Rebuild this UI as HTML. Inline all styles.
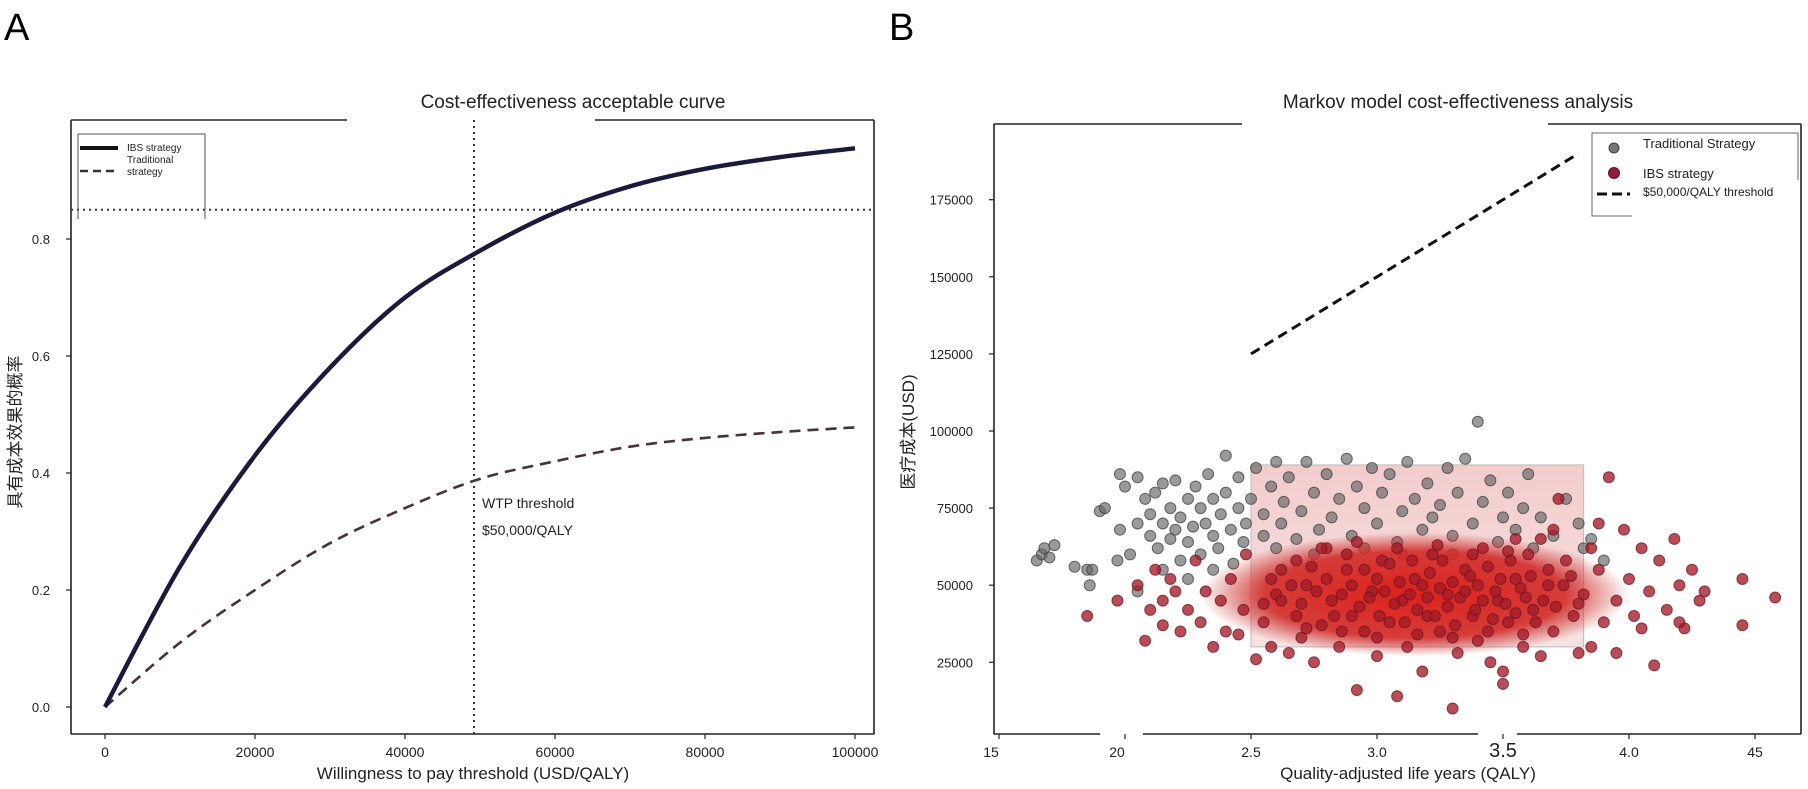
<!DOCTYPE html>
<html><head><meta charset="utf-8"><style>
html,body{margin:0;padding:0;background:#fff;}
svg{display:block;font-family:"Liberation Sans Narrow","Liberation Sans","Noto Sans CJK SC",sans-serif;}
</style></head><body>
<svg id="fig" width="1808" height="789" viewBox="0 0 1808 789">
<text x="4" y="40" font-size="38" font-family="Liberation Sans, sans-serif">A</text>
<text x="889" y="40" font-size="38" font-family="Liberation Sans, sans-serif">B</text>
<g id="left"></g>
<g id="right"></g>
</svg>
<script>
// ---- Left chart data ----
const wtpValues = [0,10000,20000,30000,40000,50000,60000,70000,80000,90000,100000];
const ibsProb = [0,0.24,0.43,0.58,0.70,0.78,0.845,0.89,0.92,0.94,0.955];
const tradProb = [0,0.11,0.20,0.28,0.34,0.39,0.42,0.445,0.46,0.47,0.478];
const leftXTicks = [0,20000,40000,60000,80000,100000];
const leftYTicks = [0,0.2,0.4,0.6,0.8];
const wtpThreshold = 50000;
const probThreshold = 0.85;
// ---- Right chart data ----
const rightXTicks = [1.5,2.0,2.5,3.0,3.5,4.0,4.5];
const rightXTickLabels = ["15","20","2.5","3.0","3.5","4.0","45"];
const rightYTicks = [25000,50000,75000,100000,125000,150000,175000];
const thresholdQ = [2.5,3.8];
const thresholdC = [125000,190000];
const tradQ = [1.65,1.67,1.68,1.70,1.72,1.80,1.85,1.86,1.87,1.90,1.92,1.98,1.98,2.00,2.02,2.05,2.05,2.08,2.10,2.10,2.12,2.13,2.15,2.15,2.18,2.18,2.20,2.20,2.22,2.22,2.25,2.25,2.27,2.28,2.30,2.30,2.32,2.33,2.35,2.35,2.37,2.38,2.40,2.40,2.42,2.43,2.45,2.45,2.47,2.48,2.50,2.52,2.55,2.55,2.58,2.60,2.62,2.63,2.65,2.68,2.70,2.72,2.75,2.77,2.80,2.82,2.85,2.88,2.90,2.92,2.95,2.98,3.00,3.02,3.05,3.08,3.10,3.12,3.15,3.18,3.20,3.22,3.25,3.28,3.30,3.32,3.35,3.38,3.40,3.42,3.45,3.48,3.50,3.52,3.55,3.58,3.60,3.62,3.65,3.70,3.75,3.80,3.82,2.60,2.75,2.95,3.10,3.30,2.35,2.15,2.05,2.25,1.97,3.85,3.90];
const tradC = [58,60,62,59,63,56,55,50,55,74,75,86,68,82,60,70,85,78,73,66,80,62,83,70,75,65,68,84,72,58,78,64,69,82,75,60,70,86,66,78,62,73,92,80,68,57,75,85,64,70,78,88,73,66,82,90,70,77,85,65,74,90,80,68,86,72,78,91,66,82,75,88,70,80,86,64,74,90,78,68,83,72,76,88,66,80,91,70,103,77,84,64,72,80,68,75,86,62,72,66,78,70,62,62,60,62,60,60,55,55,48,52,58,65,58];
const ibsQ = [1.85,1.97,2.05,2.08,2.10,2.12,2.15,2.15,2.18,2.20,2.22,2.25,2.28,2.30,2.32,2.35,2.38,2.40,2.42,2.45,2.47,2.48,2.52,2.55,2.58,2.60,2.62,2.65,2.68,2.70,2.72,2.75,2.78,2.80,2.82,2.85,2.88,2.90,2.92,2.95,2.98,3.00,3.02,3.05,3.08,3.10,3.12,3.15,3.18,3.20,3.22,3.25,3.28,3.30,3.32,3.35,3.38,3.40,3.42,3.45,3.48,3.50,3.50,3.52,3.55,3.58,3.60,3.62,3.65,3.68,3.70,3.72,3.75,3.78,3.80,3.82,3.85,3.85,3.88,3.90,3.92,3.95,3.95,3.98,4.00,4.02,4.05,4.08,4.10,4.12,4.15,4.18,4.20,4.22,4.25,4.28,4.30,4.45,4.45,4.58,3.70,3.65,3.88,4.05,4.20,3.55,
2.62,2.66,2.70,2.74,2.76,2.80,2.83,2.86,2.88,2.90,2.93,2.95,2.97,3.00,3.01,3.03,3.05,3.07,3.09,3.11,3.13,3.14,3.16,3.18,3.20,3.21,3.23,3.25,3.26,3.28,3.30,3.31,3.33,3.35,3.37,3.39,3.40,3.42,3.44,3.46,3.47,3.49,3.51,3.53,3.55,3.57,3.59,3.61,3.63,3.66,3.68,3.71,3.74,3.77,3.80,2.68,2.78,2.92,3.08,3.24,3.38,3.52,2.72,2.86,3.00,3.16,3.30,3.44,3.58,2.58,2.55];
const ibsC = [40,45,50,32,42,55,37,45,52,48,35,42,58,38,48,30,45,35,52,34,42,60,26,38,30,47,55,28,40,33,50,25,37,62,45,30,55,40,16,35,48,27,58,38,14,45,30,52,22,40,60,35,47,10,28,55,40,32,62,25,45,22,18,38,52,30,60,42,27,50,35,78,58,40,28,47,62,30,55,38,85,45,28,68,52,40,62,48,24,58,42,65,50,36,55,45,48,52,37,46,68,65,70,36,38,65,
45,50,44,56,48,52,40,47,60,50,43,55,46,52,40,48,57,44,51,38,47,58,42,50,46,54,40,49,58,43,51,37,46,48,53,42,50,45,56,39,48,52,44,58,41,49,46,53,38,45,55,43,50,53,44,58,62,64,62,63,60,61,36,35,33,34,33,35,34,52,44];

const NS = "http://www.w3.org/2000/svg";
function mk(parent, tag, attrs, text){
  const e = document.createElementNS(NS, tag);
  for (const k in attrs) e.setAttribute(k, attrs[k]);
  if (text !== undefined) e.textContent = text;
  parent.appendChild(e);
  return e;
}

// ===== LEFT =====
const L = document.getElementById('left');
const lx = v => 105 + v / 100000 * 750;
const ly = v => 707 - v * 585;
let e;
e = mk(L,'line',{x1:71,y1:120,x2:71,y2:734,stroke:'#222','stroke-width':1.6});
 
e = mk(L,'line',{x1:71,y1:734,x2:874,y2:734,stroke:'#222','stroke-width':1.6});
 
e = mk(L,'line',{x1:874,y1:120,x2:874,y2:734,stroke:'#222','stroke-width':1.6});
 
e = mk(L,'line',{x1:71,y1:120,x2:347,y2:120,stroke:'#222','stroke-width':1.6});
 
e = mk(L,'line',{x1:595,y1:120,x2:874,y2:120,stroke:'#222','stroke-width':1.6});
 
e = mk(L,'text',{x:573,y:108,'font-size':19,'text-anchor':'middle',fill:'#222'},'Cost-effectiveness acceptable curve');
 

leftXTicks.forEach(v=>{
  const t = mk(L,'line',{x1:lx(v),y1:734,x2:lx(v),y2:739,stroke:'#222','stroke-width':1.2});
   
  const s = mk(L,'text',{x:lx(v),y:757,'font-size':14,'text-anchor':'middle',fill:'#222'},String(v));
   
});
leftYTicks.forEach(v=>{
  const t = mk(L,'line',{x1:66,y1:ly(v),x2:71,y2:ly(v),stroke:'#222','stroke-width':1.2});
   
  const s = mk(L,'text',{x:50,y:ly(v)+5,'font-size':13,'text-anchor':'end',fill:'#222'},v.toFixed(1));
   
});
e = mk(L,'text',{x:473,y:779,'font-size':17,'text-anchor':'middle',fill:'#222'},'Willingness to pay threshold (USD/QALY)');
 
e = mk(L,'text',{x:0,y:0,'font-size':17,'text-anchor':'middle',fill:'#222',transform:'translate(21,432) rotate(-90)'},'具有成本效果的概率');
 

e = mk(L,'line',{x1:71,y1:ly(probThreshold),x2:874,y2:ly(probThreshold),stroke:'#333','stroke-width':2,'stroke-dasharray':'2,4'});
 
e = mk(L,'line',{x1:lx(wtpThreshold)-6,y1:120,x2:lx(wtpThreshold)-6,y2:734,stroke:'#333','stroke-width':2,'stroke-dasharray':'2,4'});
 
e = mk(L,'text',{x:482,y:508,'font-size':14,fill:'#222'},'WTP threshold');
 
e = mk(L,'text',{x:482,y:535,'font-size':14,fill:'#222'},'$50,000/QALY');
 

function smoothPath(xs, ys){
  const p = xs.map((x,i)=>[lx(x), ly(ys[i])]);
  let d = 'M'+p[0][0]+','+p[0][1];
  for (let i=0;i<p.length-1;i++){
    const p0=p[Math.max(0,i-1)], p1=p[i], p2=p[i+1], p3=p[Math.min(p.length-1,i+2)];
    const c1=[p1[0]+(p2[0]-p0[0])/6, p1[1]+(p2[1]-p0[1])/6];
    const c2=[p2[0]-(p3[0]-p1[0])/6, p2[1]-(p3[1]-p1[1])/6];
    d += ' C'+c1[0]+','+c1[1]+' '+c2[0]+','+c2[1]+' '+p2[0]+','+p2[1];
  }
  return d;
}
e = mk(L,'path',{d:smoothPath(wtpValues,tradProb),fill:'none',stroke:'#4a3038','stroke-width':2.6,'stroke-dasharray':'11,7'});
 
e = mk(L,'path',{d:smoothPath(wtpValues,ibsProb),fill:'none',stroke:'#1c1a3c','stroke-width':4.5});
 

const lg = mk(L,'g',{});
 
mk(lg,'path',{d:'M78,219 L78,134 L205,134 M201,134 L205,134 L205,219',fill:'none',stroke:'#555','stroke-width':1});
mk(lg,'line',{x1:80,y1:148,x2:118,y2:148,stroke:'#111','stroke-width':4});
mk(lg,'line',{x1:80,y1:171,x2:118,y2:171,stroke:'#333','stroke-width':2.5,'stroke-dasharray':'8,5'});
e = mk(lg,'text',{x:127,y:151,'font-size':10,fill:'#222'},'IBS strategy');
 
e = mk(lg,'text',{x:127,y:163,'font-size':10,fill:'#222'},'Traditional');
 
mk(lg,'text',{x:127,y:175,'font-size':10,fill:'#222'},'strategy');

// ===== RIGHT =====
const R = document.getElementById('right');
const rx = v => 1251 + (v - 2.5) * 252;
const ry = v => 431 + (100000 - v) * 77.1 / 25000;
const defs = mk(R,'defs',{});
const rg = mk(defs,'radialGradient',{id:'cloud',cx:'50%',cy:'50%',r:'50%'});
mk(rg,'stop',{offset:'0%','stop-color':'#e0201a','stop-opacity':1});
mk(rg,'stop',{offset:'70%','stop-color':'#d22a26','stop-opacity':0.9});
mk(rg,'stop',{offset:'100%','stop-color':'#c83030','stop-opacity':0});
const lgr = mk(defs,'linearGradient',{id:'pink',x1:0,y1:0,x2:0,y2:1});
mk(lgr,'stop',{offset:'0%','stop-color':'#f3cccc'});
mk(lgr,'stop',{offset:'100%','stop-color':'#f7e2e2'});

e = mk(R,'rect',{x:rx(2.5),y:ry(89000),width:rx(3.82)-rx(2.5),height:ry(30000)-ry(89000),fill:'url(#pink)',stroke:'#bbb','stroke-width':1});
 

e = mk(R,'line',{x1:994,y1:124,x2:994,y2:734,stroke:'#222','stroke-width':1.6});
 
e = mk(R,'line',{x1:1801,y1:124,x2:1801,y2:734,stroke:'#222','stroke-width':1.6});
 
[[994,1100],[1143,1478],[1517,1801]].forEach(s=>{
  const b = mk(R,'line',{x1:s[0],y1:734,x2:s[1],y2:734,stroke:'#222','stroke-width':1.6});
   
});
[[994,1242],[1548,1801]].forEach(s=>{
  const b = mk(R,'line',{x1:s[0],y1:124,x2:s[1],y2:124,stroke:'#222','stroke-width':1.6});
   
});
e = mk(R,'text',{x:1458,y:108,'font-size':19,'text-anchor':'middle',fill:'#222'},'Markov model cost-effectiveness analysis');
 

rightXTicks.forEach((v,i)=>{
  const t = mk(R,'line',{x1:rx(v),y1:734,x2:rx(v),y2:739,stroke:'#222','stroke-width':1.2});
   
  const big = rightXTickLabels[i]==='3.5';
  const s = mk(R,'text',{x:rx(v)-(i<2?8:0),y:757,'font-size':big?20:14,'text-anchor':'middle',fill:'#222'},rightXTickLabels[i]);
   
});
rightYTicks.forEach(v=>{
  const t = mk(R,'line',{x1:989,y1:ry(v),x2:994,y2:ry(v),stroke:'#222','stroke-width':1.2});
   
  const s = mk(R,'text',{x:973,y:ry(v)+5,'font-size':13,'text-anchor':'end',fill:'#222'},String(v));
   
});
e = mk(R,'text',{x:1408,y:779,'font-size':17,'text-anchor':'middle',fill:'#222'},'Quality-adjusted life years (QALY)');
 
e = mk(R,'text',{x:0,y:0,'font-size':17,'text-anchor':'middle',fill:'#222',transform:'translate(914,432) rotate(-90)'},'医疗成本(USD)');
 

tradQ.forEach((q,i)=>{
  const c = mk(R,'circle',{cx:rx(q),cy:ry(tradC[i]*1000),r:5.5,fill:'rgba(100,100,100,0.65)',stroke:'rgba(55,55,55,0.7)','stroke-width':1});
   
});
e = mk(R,'ellipse',{cx:rx(3.15),cy:ry(47000),rx:215,ry:62,fill:'url(#cloud)'});
 
ibsQ.forEach((q,i)=>{
  const c = mk(R,'circle',{cx:rx(q),cy:ry(ibsC[i]*1000),r:5.5,fill:'rgba(165,25,40,0.78)',stroke:'rgba(100,20,30,0.7)','stroke-width':1});
   
});

e = mk(R,'line',{x1:rx(thresholdQ[0]),y1:ry(thresholdC[0]),x2:rx(thresholdQ[1]),y2:ry(thresholdC[1]),stroke:'#111','stroke-width':3,'stroke-dasharray':'10,6'});
 

const rlg = mk(R,'g',{});
 
mk(rlg,'path',{d:'M1632,216 L1592,216 L1592,133 L1798,133 L1798,180',fill:'none',stroke:'#666','stroke-width':1});
mk(rlg,'circle',{cx:1614,cy:148,r:5,fill:'#777',stroke:'#444'});
mk(rlg,'circle',{cx:1614,cy:173,r:5.5,fill:'#8e1c3a',stroke:'#6a1020'});
mk(rlg,'line',{x1:1597,y1:194,x2:1630,y2:194,stroke:'#111','stroke-width':3,'stroke-dasharray':'10,5'});
e = mk(rlg,'text',{x:1643,y:148,'font-size':13,fill:'#222'},'Traditional Strategy');
 
e = mk(rlg,'text',{x:1643,y:178,'font-size':13,fill:'#222'},'IBS strategy');
 
e = mk(rlg,'text',{x:1643,y:196,'font-size':12,fill:'#222'},'$50,000/QALY threshold');
 
</script>
</body></html>
